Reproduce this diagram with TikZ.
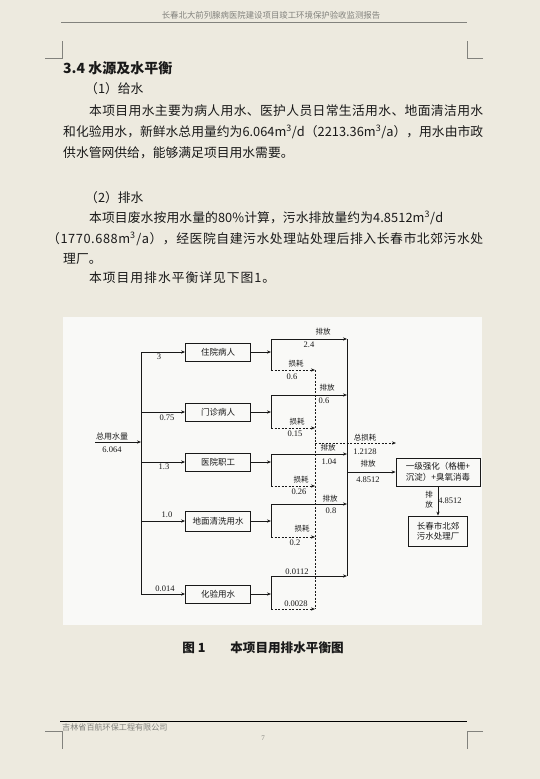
\documentclass[tikz,border=0pt]{standalone}
\usepackage{fontspec}
\setmainfont{Liberation Serif}
\newfontfamily\cjk{Noto Sans CJK SC}
\usetikzlibrary{arrows.meta}
\definecolor{pagebg}{RGB}{237,234,223}
\definecolor{figbg}{RGB}{249,249,247}
\definecolor{ink}{RGB}{25,25,25}
\definecolor{hdr}{RGB}{130,130,125}
\ExplSyntaxOn
\NewDocumentCommand\jline{mm}{
  \hbox_to_wd:nn {#1} {
    \bool_set_true:N \l_tmpa_bool
    \tl_map_inline:nn {#2} { \bool_if:NTF \l_tmpa_bool {\bool_set_false:N \l_tmpa_bool} {\hfil} ##1 }
  }
}
\ExplSyntaxOff
\tikzset{
  txt/.style={anchor=base west, inner sep=0, font=\cjk\fontsize{12.8}{14}\selectfont, text=ink},
  box/.style={draw=ink, line width=0.8pt, minimum width=65pt, minimum height=18pt, inner sep=1pt, font=\cjk\fontsize{8.5}{10.5}\selectfont, text=ink, align=center},
  lbl/.style={inner sep=0, font=\cjk\fontsize{7.5}{9}\selectfont, text=ink},
  num/.style={inner sep=0, font=\fontsize{8.5}{9}\selectfont, text=ink},
  flow/.style={draw=ink, line width=0.8pt},
  arr/.style={-{Stealth[length=4pt,width=3.2pt]}},
  loss/.style={dash pattern=on 2pt off 1.5pt},
  cornermark/.style={draw=hdr, line width=0.6pt}
}
\begin{document}
\begin{tikzpicture}[x=1pt,y=-1pt]
\fill[pagebg] (0,0) rectangle (540,779);
\useasboundingbox (0,0) rectangle (540,779);
% header
\node[font=\cjk\fontsize{8.4}{9}\selectfont, text=hdr, inner sep=0] (hd) at (271,15) {长春北大前列腺病医院建设项目竣工环境保护验收监测报告};
\draw[hdr, line width=0.8pt] (61,22) -- (467,22);
\draw[cornermark] (45,58) -- (62,58) -- (62,41);
\draw[cornermark] (483,58) -- (467,58) -- (467,41);
% body text
\node[txt, font=\cjk\bfseries\fontsize{14}{16}\selectfont] (h34) at (63,73) {3.4 水源及水平衡};
\node[txt] (s1) at (85,93) {（1）给水};
\node[txt] (p1a) at (89,115) {\jline{394pt}{本项目用水主要为病人用水、医护人员日常生活用水、地面清洁用水}};
\node[txt] (p1b) at (63,136) {\jline{420pt}{和化验用水，新鲜水总用量约为6.064{m\textsuperscript{3}}/d（2213.36{m\textsuperscript{3}}/a），用水由市政}};
\node[txt] (p1c) at (63,157) {\jline{225pt}{供水管网供给，能够满足项目用水需要。}};
\node[txt] (s2) at (85,202) {（2）排水};
\node[txt] (p2a) at (89,222) {\jline{354pt}{本项目废水按用水量的80\%计算，污水排放量约为4.8512{m\textsuperscript{3}}/d}};
\node[txt] (p2b) at (47,243) {\jline{436pt}{（1770.688{m\textsuperscript{3}}/a），经医院自建污水处理站处理后排入长春市北郊污水处}};
\node[txt] (p2c) at (63,263) {理厂。};
\node[txt] (p3) at (89,282) {\jline{186pt}{本项目用排水平衡详见下图1。}};
% figure background
\fill[figbg] (63,317) rectangle (482,625);
% boxes
\node[box] (b1) at (218,352) {住院病人};
\node[box] (b2) at (218,412) {门诊病人};
\node[box] (b3) at (218,462) {医院职工};
\node[box, minimum height=20pt] (b4) at (218,521) {地面清洗用水};
\node[box] (b5) at (218,594) {化验用水};
\node[box, minimum width=84pt, minimum height=28pt] (p) at (438,472) {一级强化（格栅+\\沉淀）+臭氧消毒};
\node[box, minimum width=59pt, minimum height=30pt] (f) at (438,531) {长春市北郊\\污水处理厂};
% trunk
\coordinate (in) at (95,442);
\coordinate (tin) at (141,442);
\foreach \i/\y in {1/352,2/412,3/462,4/521,5/594}{
  \coordinate (t\i) at (141,\y);
  \coordinate (s\i) at (271,\y);
}
\draw[flow] (t1) -- (t5);
\draw[flow,arr] (in) -- (tin);
\foreach \i in {1,...,5}{
  \draw[flow,arr] (t\i) -- (b\i.west);
  \draw[flow,arr] (b\i.east) -- (s\i);
}
% splits
\foreach \i/\ya/\yb in {1/339/370,2/395/428,3/454/486,4/504/537,5/576/609}{
  \coordinate (u\i) at (271,\ya);
  \coordinate (v\i) at (271,\yb);
  \coordinate (d\i) at (347,\ya);
  \coordinate (l\i) at (315,\yb);
  \draw[flow] (u\i) -- (v\i);
  \draw[flow,arr] (u\i) -- (d\i);
  \draw[flow,loss,arr] (v\i) -- (l\i);
}
\draw[flow] (d1) -- (d5);
\draw[flow,loss] (l1) -- (l5);
% total loss and discharge
\coordinate (lt) at (315,443);
\coordinate (lte) at (396,443);
\draw[flow,loss,arr] (lt) -- (lte);
\coordinate (dm) at (347,472);
\draw[flow,arr] (dm) -- (p.west);
\draw[flow,arr] (p.south) -- (f.north);
% labels
\node[lbl, font=\cjk\fontsize{8}{9}\selectfont] (lin) at (112,436) {总用水量};
\node[num] (nin) at (112,450) {6.064};
\node[num] (n1) at (159,357) {3};
\node[num] (n2) at (167,418) {0.75};
\node[num] (n3) at (164,467) {1.3};
\node[num] (n4) at (167,515) {1.0};
\node[num] (n5) at (165,589) {0.014};
\node[lbl] (e1) at (323,332) {排放};
\node[num] (e1n) at (309,345) {2.4};
\node[lbl] (k1) at (296,364) {损耗};
\node[num] (k1n) at (292,377) {0.6};
\node[lbl] (e2) at (327,388) {排放};
\node[num] (e2n) at (324,401) {0.6};
\node[lbl] (k2) at (297,422) {损耗};
\node[num] (k2n) at (295,434) {0.15};
\node[lbl] (e3) at (328,448) {排放};
\node[num] (e3n) at (329,462) {1.04};
\node[lbl] (k3) at (301,480) {损耗};
\node[num] (k3n) at (299,492) {0.26};
\node[lbl] (e4) at (330,499) {排放};
\node[num] (e4n) at (331,511) {0.8};
\node[lbl] (k4) at (302,529) {损耗};
\node[num] (k4n) at (295,543) {0.2};
\node[num] (e5n) at (297,572) {0.0112};
\node[num] (k5n) at (296,604) {0.0028};
\node[lbl] (tl) at (365,438) {总损耗};
\node[num] (tln) at (365,452) {1.2128};
\node[lbl] (em) at (368,464) {排放};
\node[num] (emn) at (368,480) {4.8512};
\node[lbl, align=center, font=\cjk\fontsize{7.5}{10}\selectfont] (ed) at (429,500) {排\\放};
\node[num] (edn) at (450,501) {4.8512};
% caption
\node[inner sep=0, font=\cjk\bfseries\fontsize{12.6}{14}\selectfont, text=ink] (cap1) at (194,648) {图 1};
\node[inner sep=0, font=\cjk\bfseries\fontsize{12.6}{14}\selectfont, text=ink] (cap2) at (287,648) {本项目用排水平衡图};
% footer
\draw[black, line width=1pt] (60,721) -- (467,721);
\node[anchor=west, inner sep=0, font=\cjk\fontsize{8.1}{9}\selectfont, text=hdr] (ft) at (62,727) {吉林省百航环保工程有限公司};
\node[inner sep=0, font=\fontsize{7}{8}\selectfont, text=hdr] (pg) at (263,738) {7};
\draw[cornermark] (45,731) -- (62,731) -- (62,749);
\draw[cornermark] (483,731) -- (467,731) -- (467,749);
\end{tikzpicture}
\end{document}
